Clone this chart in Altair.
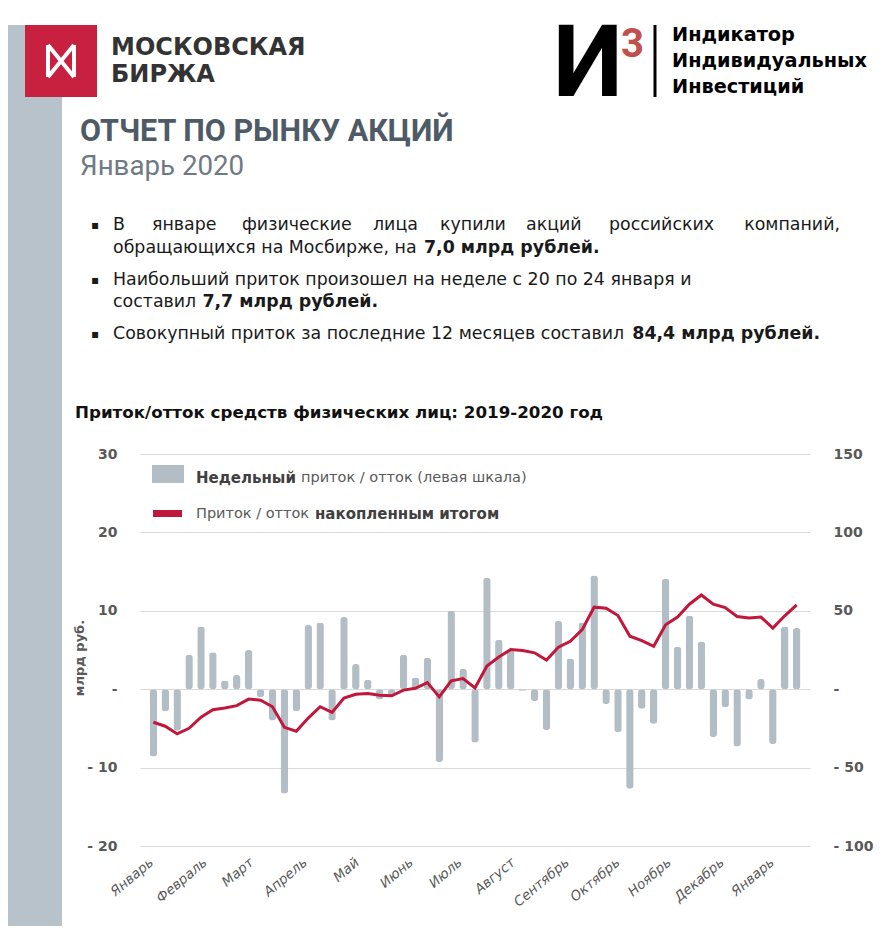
import altair as alt
import pandas as pd

# ---- data ----
weekly = [-8.6, -2.8, -5.3, 4.4, 8.0, 4.7, 1.1, 1.8, 5.0, -1.0,
          -4.0, -13.3, -2.8, 8.2, 8.5, -4.0, 9.2, 3.2, 1.2, -1.3,
          -1.0, 4.4, 1.5, 4.0, -9.3, 10.0, 2.6, -6.8, 14.2, 6.3,
          5.0, -0.2, -1.5, -5.2, 8.7, 3.9, 8.5, 14.5, -1.9, -5.5,
          -12.7, -2.5, -4.4, 14.1, 5.4, 9.4, 6.1, -6.1, -2.3, -7.3,
          -1.3, 1.3, -7.0, 8.0, 7.8]
cumulative = [-21.1, -23.6, -28.5, -24.9, -17.9, -13.1, -12.0, -10.5, -6.3, -7.0,
              -11.2, -24.3, -26.8, -18.4, -11.2, -14.8, -5.7, -3.2, -2.7, -3.8,
              -4.2, -0.6, 0.6, 4.2, -4.9, 5.3, 6.8, 0.8, 14.8, 20.5,
              25.3, 24.7, 23.2, 18.6, 26.8, 30.6, 38.0, 52.3, 51.7, 47.0,
              33.8, 31.0, 27.4, 41.1, 46.0, 54.2, 60.1, 54.2, 52.1, 46.4,
              45.4, 46.0, 39.0, 46.8, 53.8]
week_idx = list(range(len(weekly)))
month_names = ["Январь", "Февраль", "Март", "Апрель", "Май", "Июнь", "Июль",
               "Август", "Сентябрь", "Октябрь", "Ноябрь", "Декабрь", "Январь"]
month_ticks = [-0.55, 3.95, 7.85, 12.35, 16.7, 21.25, 25.35, 29.8, 34.35,
               38.6, 42.9, 47.35, 51.55]
left_ticks = [-20, -10, 0, 10, 20, 30]
right_ticks = [-100, -50, 0, 50, 100, 150]

df = pd.DataFrame({"week": week_idx, "weekly": weekly, "cum": cumulative})

W, H = 670, 392
AX = "#595959"
BAR = "#b3bdc6"
RED = "#c0173a"

names_js = "[" + ",".join("'%s'" % m for m in month_names) + "]"
ticks_js = "[" + ",".join(str(t) for t in month_ticks) + "]"
month_expr = "%s[indexof(%s, datum.value)]" % (names_js, ticks_js)

left_expr = ("datum.value == 0 ? '-\u00a0\u00a0' : (datum.value < 0 ? '- ' + abs(datum.value) : '' + datum.value)")
right_expr = ("datum.value == 0 ? '\u00a0\u00a0\u00a0\u00a0-' : (datum.value < 0 ? '- ' + abs(datum.value) : '' + datum.value)")

x_enc = alt.X("week:Q",
              scale=alt.Scale(domain=[-0.7, 54.7], nice=False, zero=False),
              axis=alt.Axis(values=month_ticks, labelExpr=month_expr, labelAngle=-40,
                            labelFontStyle="italic", labelColor=AX, labelFontSize=13.5,
                            labelFont="DejaVu Sans", domain=False, ticks=False, grid=False,
                            labelPadding=9, title=None, labelOverlap=False, labelFlush=False,
                            labelAlign="right", labelBaseline="top"))

bars = alt.Chart(df).mark_bar(size=7.5, cornerRadius=3, color=BAR).encode(
    x=x_enc,
    y=alt.Y("weekly:Q", scale=alt.Scale(domain=[-20, 30], nice=False),
            axis=alt.Axis(values=left_ticks, labelExpr=left_expr, grid=True,
                          gridColor="#d9d9d9", gridWidth=1, domain=False, ticks=False,
                          labelPadding=23, labelFontWeight="bold", labelFontSize=14,
                          labelFont="DejaVu Sans", labelColor=AX, title=None)),
)

line = alt.Chart(df).mark_line(color=RED, strokeWidth=3).encode(
    x=alt.X("week:Q"),
    y=alt.Y("cum:Q", scale=alt.Scale(domain=[-100, 150], nice=False),
            axis=alt.Axis(orient="right", values=right_ticks, labelExpr=right_expr,
                          grid=False, domain=False, ticks=False, labelPadding=23,
                          labelFontWeight="bold", labelFontSize=14, labelFont="DejaVu Sans",
                          labelColor=AX, title=None)),
)

ONE = alt.Data(values=[{}])


def txt(s, x, y, size=14, weight="normal", color="#000000", font="DejaVu Sans",
        align="left", baseline="middle", angle=0, style="normal"):
    return alt.Chart(ONE).mark_text(
        text=s, fontSize=size, fontWeight=weight, color=color, font=font, align=align,
        baseline=baseline, angle=angle, fontStyle=style
    ).encode(x=alt.value(x), y=alt.value(y))


def rect(x, x2, y, y2, color):
    return alt.Chart(ONE).mark_rect(color=color).encode(
        x=alt.value(x), x2=alt.value(x2), y=alt.value(y), y2=alt.value(y2))


def rule(x, y, x2, y2, color, w):
    return alt.Chart(ONE).mark_rule(color=color, strokeWidth=w).encode(
        x=alt.value(x), y=alt.value(y), x2=alt.value(x2), y2=alt.value(y2))


# page coords -> chart coords : x - 140, y - 454
annots_back = [rect(-140, -78, -429, 480, "#b8c2ca")]

header = [
    rect(-115, -43, -429, -357, "#c8213f"),
    rule(-92, -409, -92, -377, "white", 4),
    rule(-66, -409, -66, -377, "white", 4),
    rule(-92, -409, -66, -377, "white", 4),
    rule(-66, -409, -92, -377, "white", 4),
    txt("МОСКОВСКАЯ", -29, -406, size=24, weight="bold", color="#333333"),
    txt("БИРЖА", -29, -379, size=24, weight="bold", color="#333333"),
    txt("И", 413, -388, size=100, weight="bold", color="#000000", font="Roboto"),
    txt("3", 481, -409, size=40, weight="bold", color="#c0504d", font="Roboto"),
    rule(515, -429, 515, -357, "#000000", 3),
    txt("Индикатор", 532, -419, size=19.3, weight="bold"),
    txt("Индивидуальных", 532, -393, size=19.3, weight="bold"),
    txt("Инвестиций", 532, -367, size=19.3, weight="bold"),
    txt("ОТЧЕТ ПО РЫНКУ АКЦИЙ", -60, -322, size=30.5, weight="bold", color="#4e5b66", font="Roboto"),
    txt("Январь 2020", -60, -287, size=27.7, color="#6f7a84", font="Roboto"),
]

BT = "#1a1a1a"
FS = 17.4
bullets = []
for yy in (-229, -174, -120):
    bullets.append(txt("▪", -49, yy, size=12, color=BT))
line1_words = [("В", -27), ("январе", 12), ("физические", 102), ("лица", 233),
               ("купили", 300), ("акций", 386), ("российских", 469)]
for w, xx in line1_words:
    bullets.append(txt(w, xx, -229, size=FS, color=BT))
bullets.append(txt("компаний,", 700, -229, size=FS, color=BT, align="right"))
bullets += [
    txt("обращающихся на Мосбирже, на", -27, -206, size=FS, color=BT),
    txt("7,0 млрд рублей.", 284, -206, size=FS, weight="bold", color=BT),
    txt("Наибольший приток произошел на неделе с 20 по 24 января и", -27, -174, size=FS, color=BT),
    txt("составил", -27, -152, size=FS, color=BT),
    txt("7,7 млрд рублей.", 238, -152, size=FS, weight="bold", color=BT, align="right"),
    txt("Совокупный приток за последние 12 месяцев составил", -27, -120, size=FS, color=BT),
    txt("84,4 млрд рублей.", 680, -120, size=FS, weight="bold", color=BT, align="right"),
    txt("Приток/отток средств физических лиц: 2019-2020 год", -65, -41, size=16.7, weight="bold", color="#111111"),
]

legend = [
    rect(12, 44, 11, 29, BAR),
    rect(13, 42, 56, 63, RED),
    txt("Недельный", 56, 24, size=15, weight="bold", color="#404040"),
    txt("приток / отток (левая шкала)", 161, 24, size=14.5, color=AX),
    txt("Приток / отток", 56, 60, size=14.5, color=AX),
    txt("накопленным итогом", 175, 60, size=15, weight="bold", color="#404040"),
    txt("млрд руб.", -60, 204, size=13, weight="bold", color=AX, angle=270, align="center"),
]

chart = alt.layer(*annots_back, bars, line, *header, *bullets, *legend).resolve_scale(
    y="independent"
).properties(
    width=W, height=H,
    padding={"left": 132, "top": 446, "right": 77, "bottom": 80},
    autosize=alt.AutoSizeParams(type="none"),
    background="white",
).configure_view(stroke=None)

chart.save("out.html", embed_options={"renderer": "svg", "actions": False})
